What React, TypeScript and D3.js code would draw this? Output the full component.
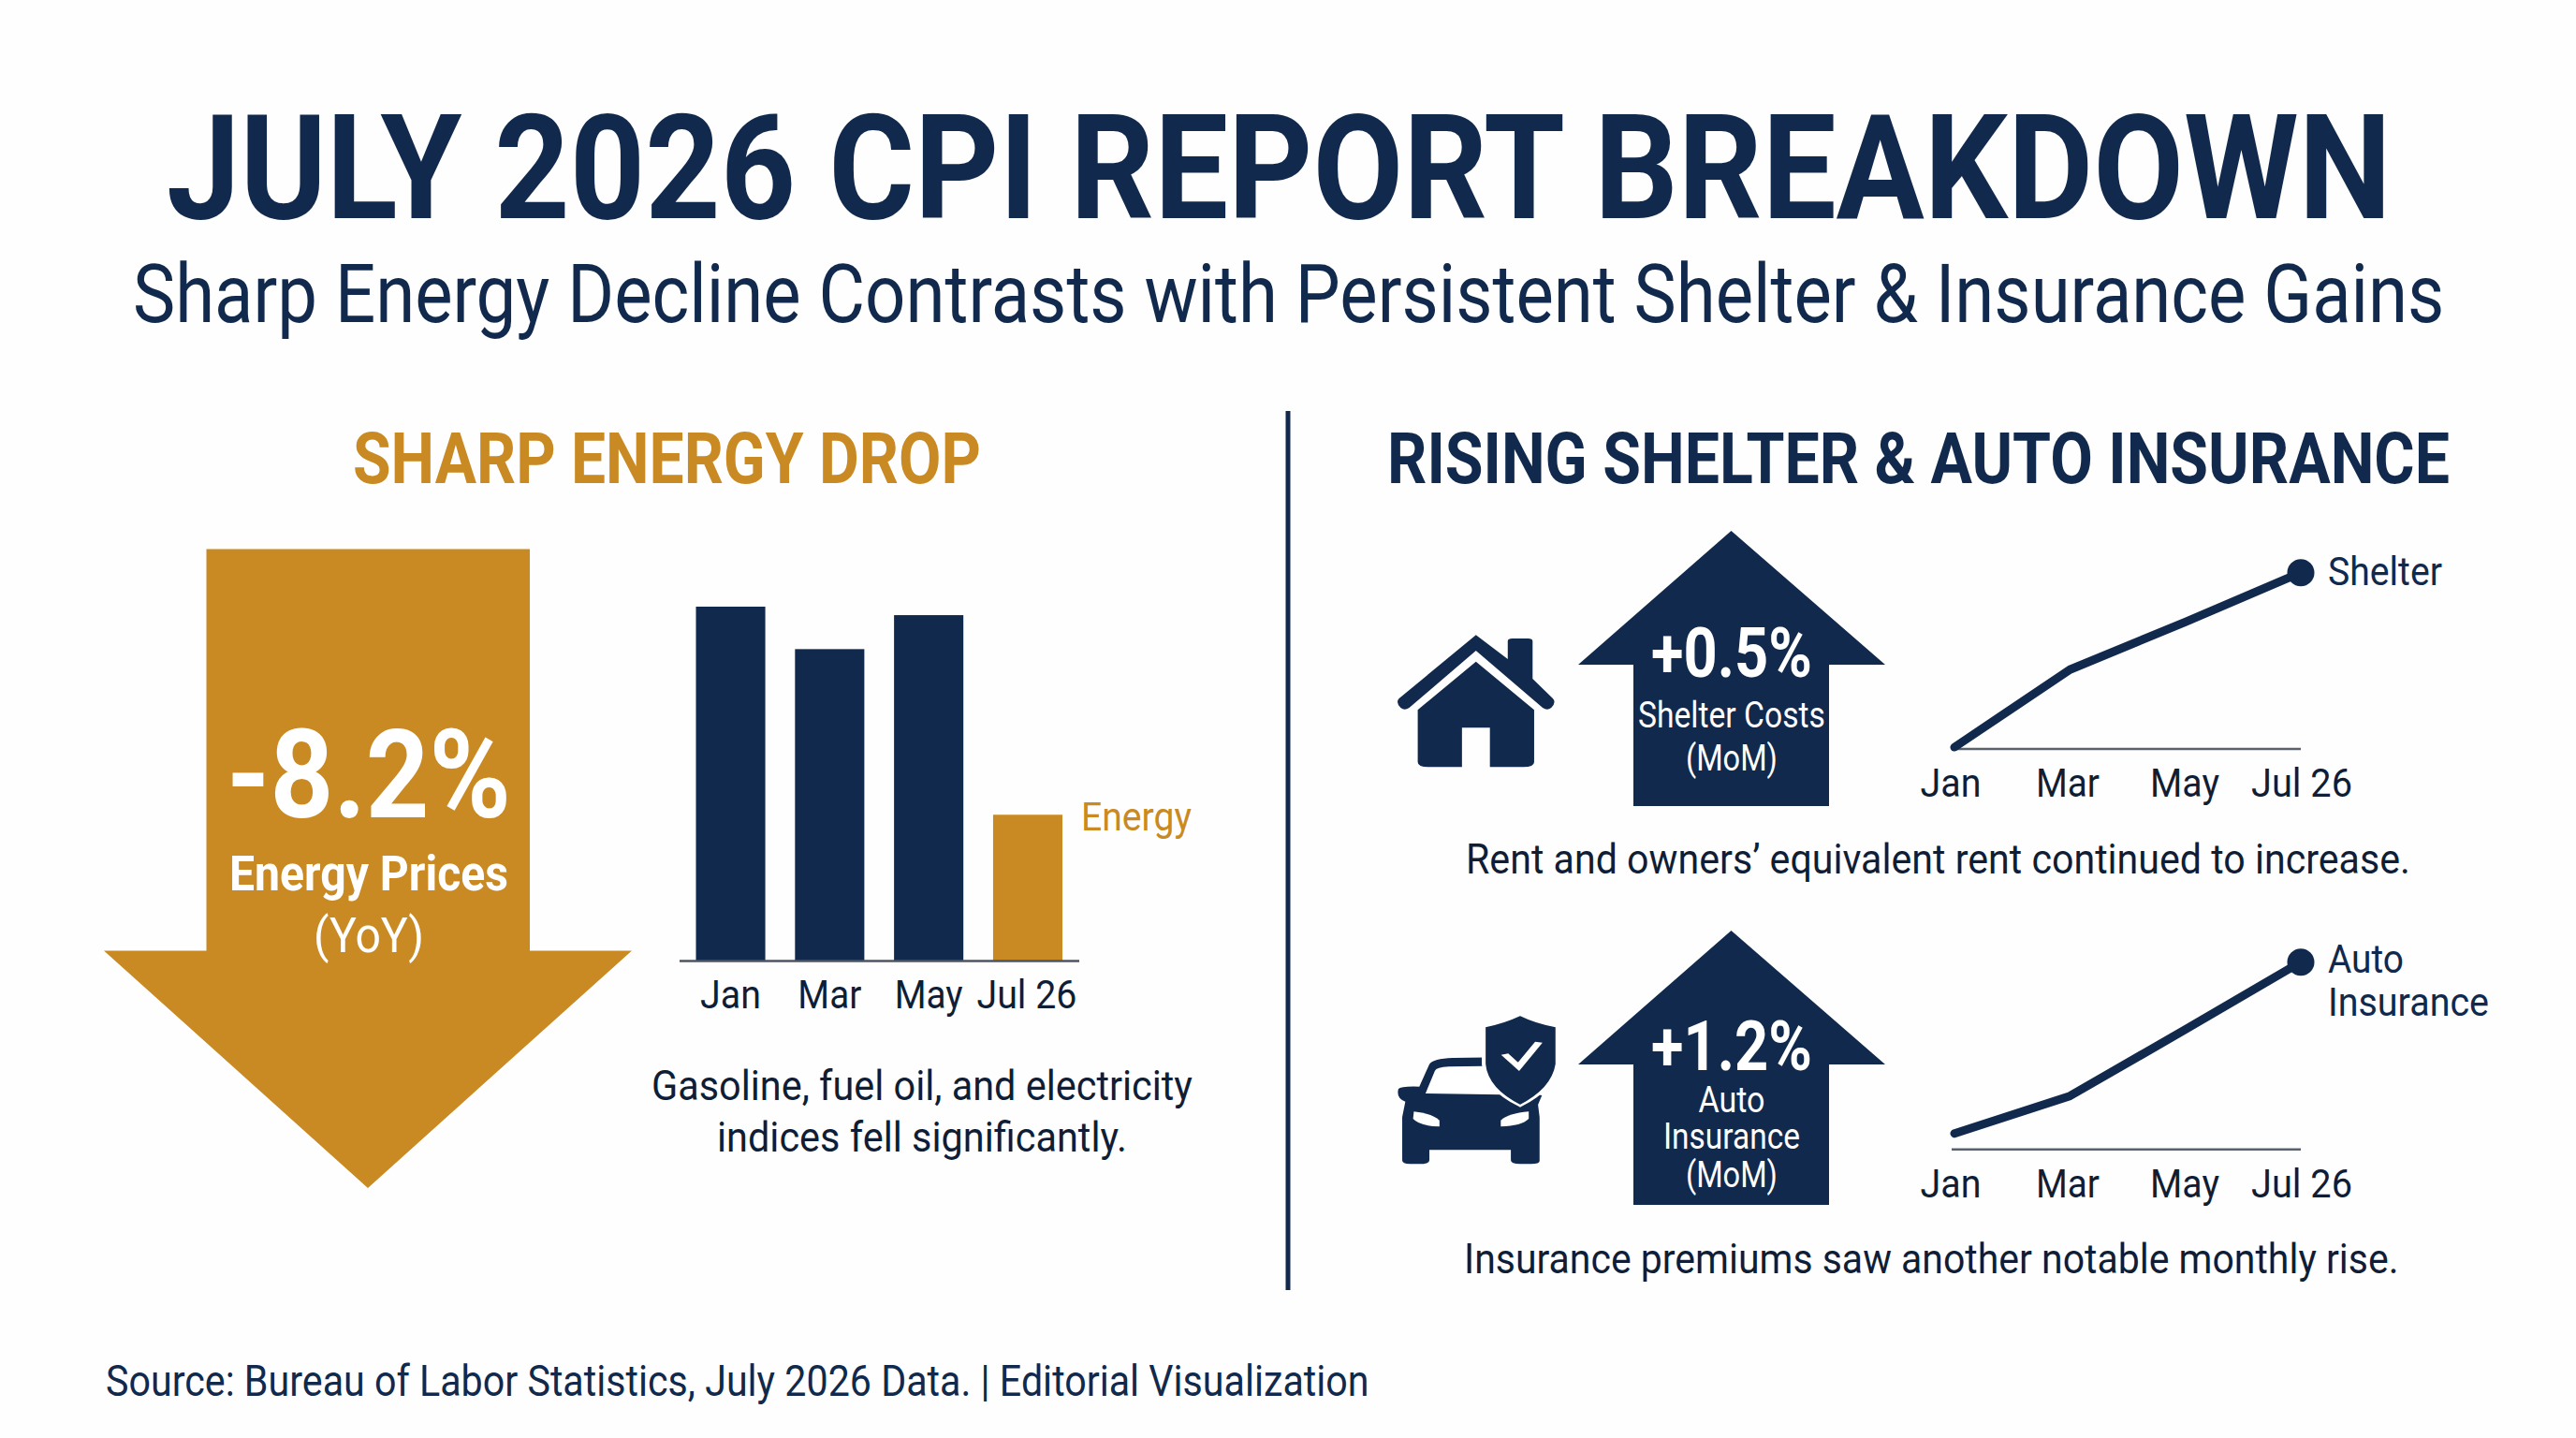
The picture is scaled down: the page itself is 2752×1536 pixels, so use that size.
import React, { useLayoutEffect, useRef } from "react";
import * as d3 from "d3";

const NAVY = "#10294c";
const GOLD = "#c98a23";
const INK = "#0f1e36";
const FONT = "Roboto, sans-serif";

const energyMonths = ["Jan", "Mar", "May", "Jul 26"];
const energyValues = [100, 88, 97.6, 41.2];
const lineMonths = ["Jan", "Mar", "May", "Jul 26"];
const shelterValues = [1, 45, 72, 100];
const insuranceValues = [8.5, 28.5, 64, 100];

type TP = { x: number; y: number; w: number; s: number; b?: boolean; c?: string; mid?: boolean; children: string };
// x is the left edge (or centre if mid); w is the rendered width: the text is narrowed horizontally to the
// condensed proportions of the reference, measured from the installed face
function T({ x, y, w, s, b, c = INK, mid, children }: TP) {
  const ref = useRef<SVGTextElement>(null);
  const left = mid ? x - w / 2 : x;
  useLayoutEffect(() => {
    const el = ref.current!;
    const natural = el.getComputedTextLength();
    el.setAttribute("transform", `translate(${left},${y}) scale(${w / natural},1)`);
  }, [left, y, w, s]);
  return (
    <text ref={ref} transform={`translate(${left},${y})`} fontFamily={FONT} fontSize={s} fontWeight={b ? 700 : 400} fill={c}>
      {children}
    </text>
  );
}

const poly = d3.line();

function DownArrow() {
  const p: [number, number][] = [[220.5, 586.5], [566, 586.5], [566, 1015.5], [675, 1015.5], [393, 1269], [111, 1015.5], [220.5, 1015.5]];
  return <path d={poly(p) + "Z"} fill={GOLD} />;
}

function UpArrow({ tip, head, bottom }: { tip: number; head: number; bottom: number }) {
  const p: [number, number][] = [[1849.5, tip], [2014, head], [1954, head], [1954, bottom], [1745, bottom], [1745, head], [1686, head]];
  return <path d={poly(p) + "Z"} fill={NAVY} />;
}

function EnergyBars() {
  const x = d3.scaleBand<string>().domain(energyMonths).range([743.5, 1135]).paddingInner(0.3);
  const y = d3.scaleLinear().domain([0, 100]).range([1026, 648]);
  const widths = [65, 68, 73, 107];
  return (
    <g>
      {energyMonths.map((m, i) => (
        <rect key={m} x={x(m)} y={y(energyValues[i])} width={x.bandwidth()} height={y(0) - y(energyValues[i])}
          fill={i === 3 ? GOLD : NAVY} />
      ))}
      <line x1={726} x2={1153} y1={1026.5} y2={1026.5} stroke="#4c5564" strokeWidth={2.5} />
      {energyMonths.map((m, i) => (
        <T key={m} x={x(m)! + x.bandwidth() / 2 + (i === 3 ? -1 : 0)} y={1077} w={widths[i]} s={42} mid>{m}</T>
      ))}
    </g>
  );
}

function TrendLine({ values, axisY, topY }: { values: number[]; axisY: number; topY: number }) {
  const x = d3.scalePoint<string>().domain(lineMonths).range([2088, 2458]);
  const y = d3.scaleLinear().domain([0, 100]).range([axisY, topY]);
  const line = d3.line<number>().x((_, i) => x(lineMonths[i])!).y((v) => y(v));
  const labelX = [2084, 2209, 2334, 2459];
  const widths = [65, 68, 74, 108];
  return (
    <g>
      <line x1={2085} x2={2458} y1={axisY} y2={axisY} stroke="#5a6270" strokeWidth={2.5} />
      <path d={line(values)!} fill="none" stroke={NAVY} strokeWidth={9} strokeLinecap="round" strokeLinejoin="round" />
      <circle cx={x(lineMonths[3])} cy={y(values[3])} r={14.5} fill={NAVY} />
      {lineMonths.map((m, i) => (
        <T key={m} x={labelX[i]} y={axisY + 51} w={widths[i]} s={42} mid>{m}</T>
      ))}
    </g>
  );
}

function House() {
  return (
    <g transform="translate(1440,540) scale(0.829,0.3333)" fill={NAVY}>
      <path d="M90,655 L165,500 L240,655 L240,822 Q240,838 226,838 L183,838 L183,712 L147,712 L147,838 L104,838 Q90,838 90,822 Z" />
      <path d="M165,415 L206,492 L206,434 Q206,426 212,426 L232,426 Q238,426 238,434 L238,555 L264,618 Q269,630 262,648 Q257,658 251,648 L165,465 L79,648 Q73,658 68,648 Q61,630 66,618 Z" />
    </g>
  );
}

function Car() {
  return (
    <g transform="translate(1440,980) scale(0.829,0.3333)">
      <path fill={NAVY} d="M105,470 Q110,452 135,450 L200,448 L225,560 L250,570 L245,600 L247,640 L247,780 Q247,790 236,790 L222,790 Q210,790 210,778 L210,745 L105,745 L105,778 Q105,790 94,790 L80,790 Q70,790 70,778 L70,640 L74,590 Q62,580 65,550 Q68,540 92,542 Z" />
      <path fill="#fff" d="M112,492 Q114,480 130,478 L175,476 L200,568 L100,564 Z" />
      <path fill="#fff" d="M85,622 Q108,628 118,650 L118,670 Q92,668 84,645 Z" />
      <path fill="#fff" d="M233,622 Q207,628 197,650 L197,670 Q224,668 233,645 Z" />
      <path fill={NAVY} stroke="#fff" strokeWidth={5} d="M222,312 Q245,340 270,350 L270,470 Q265,550 222,604 Q178,550 175,470 L175,350 Q198,340 222,312 Z" />
      <path fill="none" stroke="#fff" strokeWidth={10} d="M202,438 L220,478 L246,400" />
    </g>
  );
}

export default function App() {
  return (
    <svg width={2752} height={1536} viewBox="0 0 2752 1536"
      style={{ position: "absolute", left: 0, top: 0, display: "block", background: "#fefefe" }}>
      <T x={178} y={232.5} w={2377} s={155} b c={NAVY}>JULY 2026 CPI REPORT BREAKDOWN</T>
      <T x={142} y={344} w={2470} s={87} c={NAVY}>Sharp Energy Decline Contrasts with Persistent Shelter &amp; Insurance Gains</T>

      <T x={377} y={516} w={671} s={76} b c={GOLD}>SHARP ENERGY DROP</T>
      <T x={1482} y={516} w={1135} s={76} b c={NAVY}>RISING SHELTER &amp; AUTO INSURANCE</T>
      <line x1={1376} x2={1376} y1={439} y2={1378} stroke={NAVY} strokeWidth={5} />

      <DownArrow />
      <T x={394} y={873} w={304} s={132} b c="#fff" mid>-8.2%</T>
      <T x={394} y={951} w={298} s={52} b c="#fff" mid>Energy Prices</T>
      <T x={394} y={1017} w={118} s={52} c="#fff" mid>(YoY)</T>

      <EnergyBars />
      <T x={1155} y={887} w={118} s={42} c={GOLD}>Energy</T>
      <T x={696} y={1175} w={578} s={45}>Gasoline, fuel oil, and electricity</T>
      <T x={766} y={1230} w={438} s={45}>indices fell significantly.</T>

      <House />
      <UpArrow tip={567} head={710} bottom={861} />
      <T x={1850} y={723} w={172} s={74} b c="#fff" mid>+0.5%</T>
      <T x={1850} y={777} w={200} s={38} c="#fff" mid>Shelter Costs</T>
      <T x={1850} y={823} w={98} s={38} c="#fff" mid>(MoM)</T>
      <TrendLine values={shelterValues} axisY={800} topY={611.7} />
      <T x={2487} y={625} w={122} s={43} c={NAVY}>Shelter</T>
      <T x={1566} y={933} w={1009} s={45}>Rent and owners’ equivalent rent continued to increase.</T>

      <Car />
      <UpArrow tip={994} head={1137} bottom={1287} />
      <T x={1850} y={1143} w={172} s={74} b c="#fff" mid>+1.2%</T>
      <T x={1850} y={1188} w={71} s={38} c="#fff" mid>Auto</T>
      <T x={1850} y={1227} w={146} s={38} c="#fff" mid>Insurance</T>
      <T x={1850} y={1268} w={98} s={38} c="#fff" mid>(MoM)</T>
      <TrendLine values={insuranceValues} axisY={1227.7} topY={1027.7} />
      <T x={2487} y={1039} w={81} s={43} c={NAVY}>Auto</T>
      <T x={2487} y={1085} w={172} s={43} c={NAVY}>Insurance</T>
      <T x={1564} y={1360} w={999} s={45}>Insurance premiums saw another notable monthly rise.</T>

      <T x={113} y={1491} w={1350} s={46} c={NAVY}>Source: Bureau of Labor Statistics, July 2026 Data. | Editorial Visualization</T>
    </svg>
  );
}
